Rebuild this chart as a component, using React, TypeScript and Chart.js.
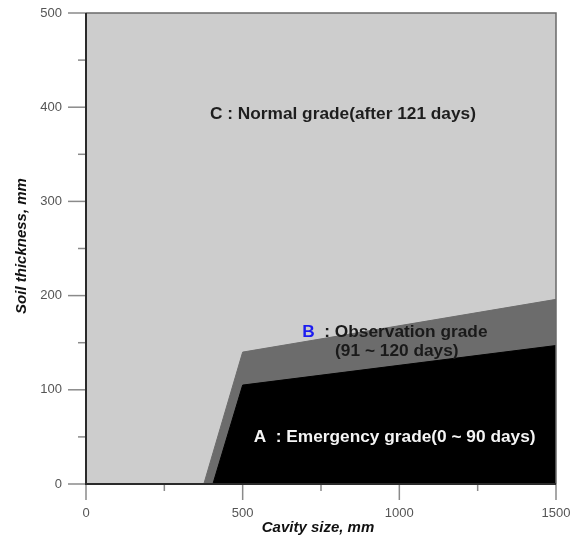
import React, { useEffect, useRef } from "react";
import { Chart, registerables } from "chart.js";

Chart.register(...registerables);

// Region A (Emergency grade) upper boundary
const aCavity = [405, 500, 1500];
const aThickness = [0, 105, 147];
// Region B (Observation grade) upper boundary
const bCavity = [376, 500, 1500];
const bThickness = [0, 140, 196];

const xTickLabels = ["0", "500", "1000", "1500"];
const yTickLabels = ["0", "100", "200", "300", "400", "500"];

const xTitle = "Cavity size, mm";
const yTitle = "Soil thickness, mm";
const cLabel = "C : Normal grade(after 121 days)";
const bLetter = "B";
const bLabel1 = "  : Observation grade";
const bLabel2 = "(91 ~ 120 days)";
const aLabel = "A  : Emergency grade(0 ~ 90 days)";

const FONT = "'Liberation Sans', Arial, Helvetica, sans-serif";

export default function App() {
  const ref = useRef<HTMLCanvasElement | null>(null);

  useEffect(() => {
    const canvas = ref.current;
    if (!canvas) return;

    const bgPlugin = {
      id: "bgPlugin",
      beforeDatasetsDraw(chart: any) {
        const { ctx, chartArea } = chart;
        ctx.save();
        ctx.fillStyle = "#cdcdcd";
        ctx.fillRect(chartArea.left, chartArea.top, chartArea.right - chartArea.left, chartArea.bottom - chartArea.top);
        ctx.restore();
      },
      afterDatasetsDraw(chart: any) {
        const { ctx, chartArea, scales } = chart;
        const xs = scales.x;
        const ys = scales.y;
        const { left, right, top, bottom } = chartArea;
        ctx.save();
        // borders
        ctx.strokeStyle = "#6a6a6a";
        ctx.lineWidth = 1.5;
        ctx.beginPath();
        ctx.moveTo(left, top);
        ctx.lineTo(right, top);
        ctx.lineTo(right, bottom);
        ctx.stroke();
        // ticks and tick labels
        ctx.strokeStyle = "#8a8a8a";
        ctx.lineWidth = 1.5;
        ctx.fillStyle = "#555555";
        ctx.font = `13px ${FONT}`;
        ctx.textBaseline = "middle";
        ys.ticks.forEach((t: any) => {
          const py = ys.getPixelForValue(t.value);
          const major = t.value % 100 === 0;
          ctx.beginPath();
          ctx.moveTo(left - (major ? 18 : 8), py);
          ctx.lineTo(left, py);
          ctx.stroke();
          if (major) {
            ctx.textAlign = "right";
            ctx.fillText(yTickLabels[t.value / 100], left - 24, py);
          }
        });
        xs.ticks.forEach((t: any) => {
          const px = xs.getPixelForValue(t.value);
          const major = t.value % 500 === 0;
          ctx.beginPath();
          ctx.moveTo(px, bottom);
          ctx.lineTo(px, bottom + (major ? 16 : 7));
          ctx.stroke();
          if (major) {
            ctx.textAlign = "center";
            ctx.fillText(xTickLabels[t.value / 500], px, bottom + 29);
          }
        });
        // axes
        ctx.strokeStyle = "#2a2a2a";
        ctx.lineWidth = 2;
        ctx.beginPath();
        ctx.moveTo(left, top);
        ctx.lineTo(left, bottom);
        ctx.lineTo(right, bottom);
        ctx.stroke();

        // annotations
        ctx.font = `bold 17.3px ${FONT}`;
        ctx.textBaseline = "middle";
        ctx.textAlign = "center";
        ctx.fillStyle = "#1e1e1e";
        ctx.fillText(cLabel, xs.getPixelForValue(820), ys.getPixelForValue(392));

        ctx.textAlign = "left";
        const bx = xs.getPixelForValue(690);
        const by = ys.getPixelForValue(161.5);
        ctx.fillStyle = "#1c1cf0";
        ctx.fillText(bLetter, bx, by);
        const bw = ctx.measureText(bLetter).width;
        ctx.fillStyle = "#1a1a1a";
        ctx.fillText(bLabel1, bx + bw, by);
        ctx.fillText(bLabel2, xs.getPixelForValue(795), ys.getPixelForValue(140.5));

        ctx.fillStyle = "#f4f4f4";
        ctx.fillText(aLabel, xs.getPixelForValue(535), ys.getPixelForValue(50));

        // axis titles
        ctx.fillStyle = "#111111";
        ctx.font = `italic bold 15px ${FONT}`;
        ctx.textAlign = "center";
        ctx.fillText(xTitle, (left + right) / 2 - 3, 528);
        ctx.save();
        ctx.translate(22, 246);
        ctx.rotate(-Math.PI / 2);
        ctx.fillText(yTitle, 0, 0);
        ctx.restore();
        ctx.restore();
      },
    };

    const chart = new Chart(canvas, {
      type: "line",
      data: {
        datasets: [
          {
            label: "A",
            data: aCavity.map((x, i) => ({ x, y: aThickness[i] })),
            borderColor: "#000000",
            backgroundColor: "#000000",
            borderWidth: 1,
            pointRadius: 0,
            fill: "origin",
            tension: 0,
          },
          {
            label: "B",
            data: bCavity.map((x, i) => ({ x, y: bThickness[i] })),
            borderColor: "#6c6c6c",
            backgroundColor: "#6c6c6c",
            borderWidth: 1,
            pointRadius: 0,
            fill: "origin",
            tension: 0,
          },
        ],
      },
      options: {
        animation: false,
        responsive: false,
        maintainAspectRatio: false,
        events: [],
        layout: { padding: { top: 13, right: 22, left: 0, bottom: 0 } },
        plugins: { legend: { display: false }, tooltip: { enabled: false }, title: { display: false } },
        scales: {
          x: {
            type: "linear",
            min: 0,
            max: 1500,
            grid: { display: false, drawTicks: false },
            border: { display: false },
            afterFit(scale: any) {
              scale.height = 59;
            },
            ticks: { stepSize: 250, display: false, autoSkip: false },
          },
          y: {
            type: "linear",
            min: 0,
            max: 500,
            grid: { display: false, drawTicks: false },
            border: { display: false },
            afterFit(scale: any) {
              scale.width = 86;
            },
            ticks: { stepSize: 50, display: false, autoSkip: false },
          },
        },
      },
      plugins: [bgPlugin],
    });

    return () => chart.destroy();
  }, []);

  return (
    <div style={{ position: "absolute", left: 0, top: 0, width: 578, height: 543, background: "#ffffff" }}>
      <canvas ref={ref} width={578} height={543} style={{ display: "block", width: 578, height: 543 }} />
    </div>
  );
}
